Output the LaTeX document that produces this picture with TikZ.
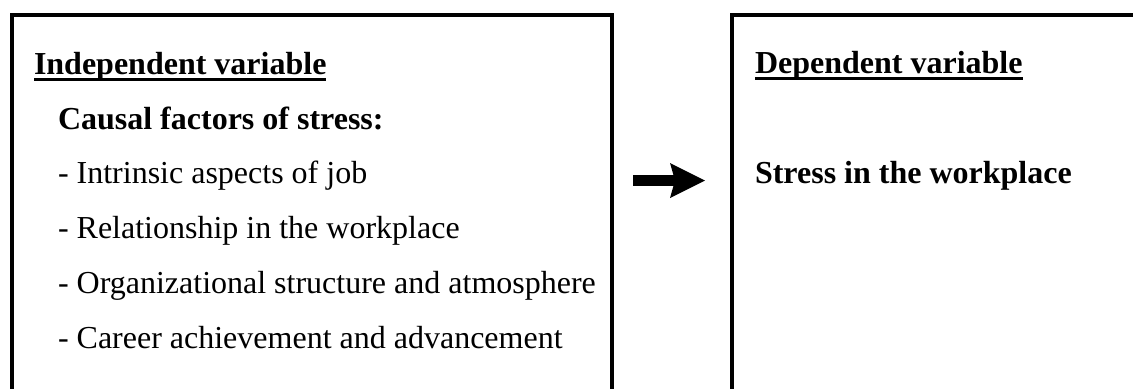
\documentclass[tikz,border=0pt]{standalone}
\usepackage{fontspec}
\setmainfont{Liberation Serif}
\usetikzlibrary{arrows.meta}
\tikzset{
  box/.style={draw=black, line width=2pt, rectangle, inner sep=0pt, anchor=north west},
  txt/.style={anchor=base west, inner sep=0pt, outer sep=0pt, font=\fontsize{16}{19}\selectfont},
  btxt/.style={txt, font=\fontsize{16}{19}\selectfont\bfseries},
  uline/.style={line width=1.65pt},
  bigarrow/.style={line width=5.5pt, -{Stealth[length=17.5pt, width=17.5pt, inset=2.5pt, line width=0pt]}}
}
\begin{document}
\begin{tikzpicture}[x=0.5pt, y=-0.5pt]
\useasboundingbox (0,0) rectangle (1133,388);
\clip (0,0) rectangle (1133,388);
\fill[white] (0,0) rectangle (1133,388);
% boxes (cropped at the bottom / right)
\node[box, minimum width=300pt, minimum height=220pt] (left) at (10,12.5) {};
\node[box, minimum width=220pt, minimum height=220pt] (right) at (730,12.5) {};
% left texts
\node[btxt] (iv) at (34,74) {Independent variable};
\draw[uline] ([yshift=-2.75pt]iv.base west) -- ([yshift=-2.75pt]iv.base east);
\node[btxt] (cf) at (58,129) {Causal factors of stress:};
\node[txt] (l1) at (58,183) {- Intrinsic aspects of job};
\node[txt] (l2) at (58,238) {- Relationship in the workplace};
\node[txt] (l3) at (58,293) {- Organizational structure and atmosphere};
\node[txt] (l4) at (58,348) {- Career achievement and advancement};
% right texts
\node[btxt] (dv) at (755,73) {Dependent variable};
\draw[uline] ([yshift=-2.9pt]dv.base west) -- ([yshift=-2.9pt]dv.base east);
\node[btxt] (sw) at (755,183) {Stress in the workplace};
% arrow
\coordinate (a0) at (633,180.5);
\coordinate (a1) at (705,180.5);
\draw[bigarrow] (a0) -- (a1);
\end{tikzpicture}
\end{document}
